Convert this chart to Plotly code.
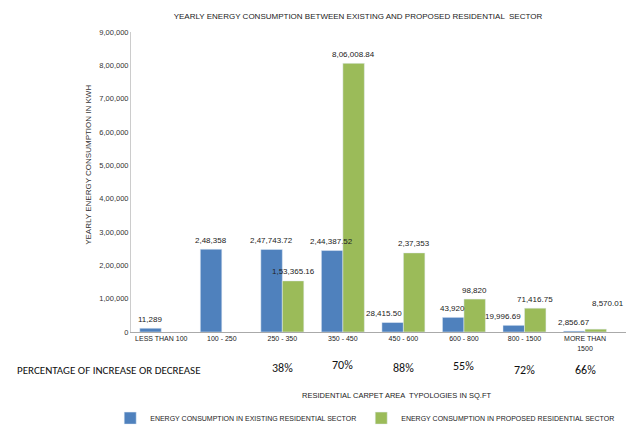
import plotly.graph_objects as go

categories = ["LESS THAN 100", "100 - 250", "250 - 350", "350 - 450", "450 - 600",
              "600 - 800", "800 - 1500", "MORE THAN<br>1500"]
existing = [11289, 248358, 247743.72, 244387.52, 28415.50, 43920, 19996.69, 2856.67]
existing_labels = ["11,289", "2,48,358", "2,47,743.72", "2,44,387.52", "28,415.50",
                   "43,920", "19,996.69", "2,856.67"]
proposed = [None, None, 153365.16, 806008.84, 237353, 98820, 71416.75, 8570.01]
proposed_labels = ["", "", "1,53,365.16", "8,06,008.84", "2,37,353", "98,820",
                   "71,416.75", "8,570.01"]
pct_categories = ["250 - 350", "350 - 450", "450 - 600", "600 - 800", "800 - 1500", "MORE THAN<br>1500"]
pct_labels = ["38%", "70%", "88%", "55%", "72%", "66%"]
y_tickvals = [0, 100000, 200000, 300000, 400000, 500000, 600000, 700000, 800000, 900000]
y_ticktext = ["0", "1,00,000", "2,00,000", "3,00,000", "4,00,000", "5,00,000",
              "6,00,000", "7,00,000", "8,00,000", "9,00,000"]

FONT = "Liberation Sans, Arial, sans-serif"
PFONT = "Carlito, Open Sans, Liberation Sans, sans-serif"
BLUE = "#4F81BD"
GREEN = "#9BBB59"

fig = go.Figure()
fig.add_trace(go.Bar(x=categories, y=existing, name="ENERGY CONSUMPTION IN EXISTING RESIDENTIAL SECTOR",
                     marker_color=BLUE))
fig.add_trace(go.Bar(x=categories, y=proposed, name="ENERGY CONSUMPTION IN PROPOSED RESIDENTIAL SECTOR",
                     marker_color=GREEN))

annotations = [
    dict(text="PERCENTAGE OF INCREASE OR DECREASE", xref="paper", yref="paper",
         x=-0.234, y=-0.127, xanchor="left", yanchor="middle", showarrow=False,
         font=dict(family=PFONT, size=11, color="#111")),
    dict(text="YEARLY ENERGY CONSUMPTION IN KWH", xref="paper", yref="paper",
         x=-0.085, y=0.557, textangle=-90, xanchor="center", yanchor="middle", showarrow=False,
         font=dict(family=FONT, size=8, color="#333")),
    dict(text="RESIDENTIAL CARPET AREA  TYPOLOGIES IN SQ.FT", xref="paper", yref="paper",
         x=0.537, y=-0.213, xanchor="center", yanchor="middle", showarrow=False,
         font=dict(family=FONT, size=7.5, color="#222")),
]

# value labels above bars (blue left of centre, green right of centre)
extra_x = {4: -8, 6: -10}
for i, (c, v, t) in enumerate(zip(categories, existing, existing_labels)):
    annotations.append(dict(text=t, x=c, y=v, xref="x", yref="y", showarrow=False,
                            xshift=-11 + extra_x.get(i, 0), yshift=9,
                            xanchor="center", yanchor="middle",
                            font=dict(family=FONT, size=8, color="#222")))
for i, (c, v, t) in enumerate(zip(categories, proposed, proposed_labels)):
    if v is None:
        continue
    annotations.append(dict(text=t, x=c, y=v, xref="x", yref="y", showarrow=False,
                            xshift=11 + (12 if i == 7 else 0), yshift=26 if i == 7 else 9,
                            xanchor="center", yanchor="middle",
                            font=dict(family=FONT, size=8, color="#222")))

pct_y = [-0.12, -0.11, -0.12, -0.113, -0.127, -0.127]
for c, t, yy in zip(pct_categories, pct_labels, pct_y):
    annotations.append(dict(text=t, x=c, xref="x", yref="paper", y=yy, showarrow=False,
                            xanchor="center", yanchor="middle",
                            font=dict(family=PFONT, size=12, color="#111")))

fig.update_layout(
    width=628, height=427,
    margin=dict(l=131, r=2, t=32, b=95, autoexpand=False),
    paper_bgcolor="white", plot_bgcolor="white",
    font=dict(family=FONT, size=8, color="#222"),
    title=dict(text="YEARLY ENERGY CONSUMPTION BETWEEN EXISTING AND PROPOSED RESIDENTIAL  SECTOR",
               x=0.57, xref="container", xanchor="center", y=0.962, yanchor="middle",
               font=dict(family=FONT, size=8, color="#222")),
    barmode="group", bargap=0.29, bargroupgap=0,
    xaxis=dict(showline=True, linecolor="#aaa", ticks="", showgrid=False, automargin=False,
               tickfont=dict(size=7, color="#222")),
    yaxis=dict(range=[0, 900000], tickvals=y_tickvals, ticktext=y_ticktext, automargin=False,
               showline=True, linecolor="#ccc", showgrid=False, ticks="",
               zeroline=False, tickfont=dict(size=7.5, color="#333")),
    legend=dict(orientation="h", x=-0.042, y=-0.287, xanchor="left", yanchor="middle",
                font=dict(size=7, color="#222"), itemwidth=30, traceorder="normal"),
    showlegend=True,
    annotations=annotations,
)

fig.write_html("out.html", config={"displayModeBar": False},
               post_script="document.body.style.margin='0';")
